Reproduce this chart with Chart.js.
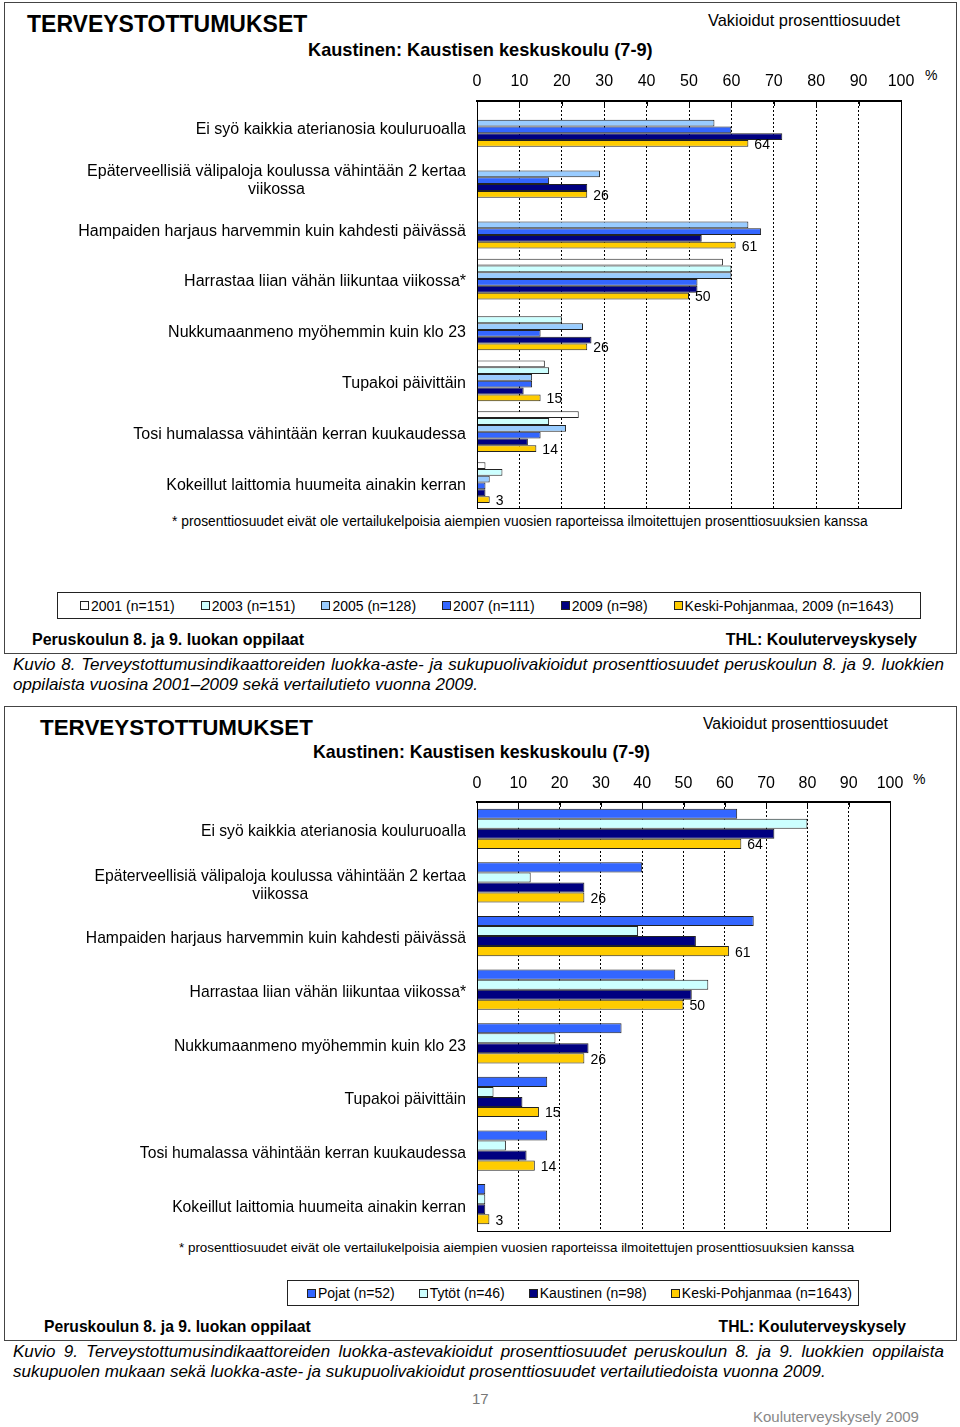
<!DOCTYPE html>
<html lang="fi">
<head>
<meta charset="utf-8">
<title>Terveystottumukset</title>
<script src="https://cdn.jsdelivr.net/npm/chart.js@4.4.1/dist/chart.umd.min.js"></script>
<style>
  body { margin: 0; background: #fff; font-family: "Liberation Sans", Arial, sans-serif; color: #000; }
  #page { position: relative; width: 960px; height: 1427px; overflow: hidden; }
  .frame { position: absolute; border: 1px solid #444; box-sizing: border-box; }
  .t { position: absolute; white-space: nowrap; line-height: 1; }
  .b { font-weight: bold; }
  canvas { position: absolute; left: 0; }
  .legend { position: absolute; border: 1px solid #222; box-sizing: border-box; display: flex; align-items: center; font-size: 14px; }
  .legend .item { display: flex; align-items: center; white-space: nowrap; }
  .legend .sw { width: 7px; height: 7px; border: 1px solid #222; margin-right: 2px; }
  .caption { position: absolute; left: 13px; width: 931px; font-style: italic; font-size: 17px; line-height: 20px; }
  .caption .l1 { text-align: justify; text-align-last: justify; white-space: nowrap; }
</style>
</head>
<body>
<div id="page">
  <div class="frame" style="left:4px; top:2px; width:953px; height:652px;"></div>
  <div class="t b" style="left:27px; top:13px; font-size:23px;">TERVEYSTOTTUMUKSET</div>
  <div class="t" style="left:708px; top:12px; font-size:16.4px;">Vakioidut prosenttiosuudet</div>
  <div class="t b" style="left:308px; top:41px; font-size:18.2px;">Kaustinen: Kaustisen keskuskoulu (7-9)</div>
  <div class="t" style="left:925px; top:68px; font-size:14px;">%</div>
  <canvas id="chartTop" width="960" height="452" style="top:60px;"></canvas>
  <div class="t" style="left:172px; top:515px; font-size:13.8px;">* prosenttiosuudet eivät ole vertailukelpoisia aiempien vuosien raporteissa ilmoitettujen prosenttiosuuksien kanssa</div>
  <div class="legend" id="legendTop" style="left:57px; top:592px; width:864px; height:27px; padding-left:22px; gap:26px;"></div>
  <div class="t b" style="left:32px; top:632px; font-size:16px;">Peruskoulun 8. ja 9. luokan oppilaat</div>
  <div class="t b" style="right:43px; top:632px; font-size:16px;">THL: Kouluterveyskysely</div>
  <div class="caption" style="top:655px;">
    <div class="l1">Kuvio 8. Terveystottumusindikaattoreiden luokka-aste- ja sukupuolivakioidut prosenttiosuudet peruskoulun 8. ja 9. luokkien</div>
    <div>oppilaista vuosina 2001–2009 sekä vertailutieto vuonna 2009.</div>
  </div>

  <div class="frame" style="left:4px; top:706px; width:953px; height:635px;"></div>
  <div class="t b" style="left:40px; top:717px; font-size:22.4px;">TERVEYSTOTTUMUKSET</div>
  <div class="t" style="left:703px; top:716px; font-size:15.8px;">Vakioidut prosenttiosuudet</div>
  <div class="t b" style="left:313px; top:744px; font-size:17.8px;">Kaustinen: Kaustisen keskuskoulu (7-9)</div>
  <div class="t" style="left:913px; top:772px; font-size:14px;">%</div>
  <canvas id="chartBottom" width="960" height="473" style="top:762px;"></canvas>
  <div class="t" style="left:179px; top:1241px; font-size:13.4px;">* prosenttiosuudet eivät ole vertailukelpoisia aiempien vuosien raporteissa ilmoitettujen prosenttiosuuksien kanssa</div>
  <div class="legend" id="legendBottom" style="left:287px; top:1280px; width:572px; height:26px; padding-left:19px; gap:24px;"></div>
  <div class="t b" style="left:44px; top:1319px; font-size:15.7px;">Peruskoulun 8. ja 9. luokan oppilaat</div>
  <div class="t b" style="right:54px; top:1319px; font-size:15.7px;">THL: Kouluterveyskysely</div>
  <div class="caption" style="top:1342px;">
    <div class="l1">Kuvio 9. Terveystottumusindikaattoreiden luokka-astevakioidut prosenttiosuudet peruskoulun 8. ja 9. luokkien oppilaista</div>
    <div>sukupuolen mukaan sekä luokka-aste- ja sukupuolivakioidut prosenttiosuudet vertailutiedoista vuonna 2009.</div>
  </div>
  <div class="t" style="left:472px; top:1391px; font-size:15px; color:#777;">17</div>
  <div class="t" style="left:753px; top:1409px; font-size:15px; color:#888;">Kouluterveyskysely 2009</div>
</div>

<script>
// --- DATA ---
const categories = [
    'Ei syö kaikkia aterianosia kouluruoalla',
    ['Epäterveellisiä välipaloja koulussa vähintään 2 kertaa', 'viikossa'],
    'Hampaiden harjaus harvemmin kuin kahdesti päivässä',
    'Harrastaa liian vähän liikuntaa viikossa*',
    'Nukkumaanmeno myöhemmin kuin klo 23',
    'Tupakoi päivittäin',
    'Tosi humalassa vähintään kerran kuukaudessa',
    'Kokeillut laittomia huumeita ainakin kerran'
];

// Kuvio 8: years
const yearSeries = ['2001 (n=151)', '2003 (n=151)', '2005 (n=128)', '2007 (n=111)', '2009 (n=98)', 'Keski-Pohjanmaa, 2009 (n=1643)'];
const values2001 = [null, null, null, 58, null, 16, 24, 2];
const values2003 = [null, null, null, 60, 20, 17, 17, 6];
const values2005 = [56, 29, 64, 60, 25, 13, 21, 3];
const values2007 = [60, 17, 67, 52, 15, 13, 15, 2];
const values2009 = [72, 26, 53, 52, 27, 11, 12, 2];
const valuesRegion = [64, 26, 61, 50, 26, 15, 14, 3];

// Kuvio 9: gender
const genderSeries = ['Pojat (n=52)', 'Tytöt (n=46)', 'Kaustinen (n=98)', 'Keski-Pohjanmaa (n=1643)'];
const valuesBoys = [63, 40, 67, 48, 35, 17, 17, 2];
const valuesGirls = [80, 13, 39, 56, 19, 4, 7, 2];
const valuesSchool = [72, 26, 53, 52, 27, 11, 12, 2];
const valuesRegion2 = [64, 26, 61, 50, 26, 15, 14, 3];

const axisMin = 0, axisMax = 100, axisStep = 10;

const COLORS = {
    y2001: '#FFFFFF', y2003: '#CCFFFF', y2005: '#99CCFF',
    y2007: '#3366FF', y2009: '#000080', region: '#FFCC00'
};
const FONT = '"Liberation Sans", Arial, sans-serif';

// --- PLUGINS ---
// category labels, multi-line ones centred on themselves
const categoryLabels = {
    id: 'categoryLabels',
    afterDraw: (chart, args, opts) => {
        const ctx = chart.ctx;
        const yScale = chart.scales.y;
        ctx.save();
        ctx.font = `${opts.size}px ${FONT}`;
        ctx.fillStyle = '#000';
        ctx.textAlign = 'center';
        ctx.textBaseline = 'middle';
        chart.data.labels.forEach((label, i) => {
            const lines = Array.isArray(label) ? label : [label];
            const w = Math.max(...lines.map(l => ctx.measureText(l).width));
            const cx = chart.chartArea.left - opts.gap - w / 2;
            const cy = yScale.getPixelForValue(i) + opts.shift;
            lines.forEach((l, k) => {
                ctx.fillText(l, cx, cy + (k - (lines.length - 1) / 2) * opts.lineHeight);
            });
        });
        ctx.restore();
    }
};

// value labels on the last dataset + plot frame with inward ticks
const plotExtras = {
    id: 'plotExtras',
    afterDatasetsDraw: (chart, args, opts) => {
        const ctx = chart.ctx;
        const area = chart.chartArea;
        const xScale = chart.scales.x;
        ctx.save();
        ctx.strokeStyle = '#000';
        ctx.lineWidth = 1;
        ctx.strokeRect(area.left + 0.5, area.top + 0.5, area.right - area.left, area.bottom - area.top);
        ctx.lineWidth = 2;
        ctx.beginPath();
        ctx.moveTo(area.left, area.top);
        ctx.lineTo(area.right + 1, area.top);
        ctx.stroke();
        ctx.lineWidth = 1;
        xScale.ticks.forEach(t => {
            const x = Math.round(xScale.getPixelForValue(t.value)) + 0.5;
            ctx.beginPath();
            ctx.moveTo(x, area.top);
            ctx.lineTo(x, area.top + 5);
            ctx.stroke();
        });

        const last = chart.data.datasets.length - 1;
        const values = chart.data.datasets[last].data;
        ctx.font = `14px ${FONT}`;
        ctx.fillStyle = '#000';
        ctx.textAlign = 'left';
        ctx.textBaseline = 'middle';
        chart.getDatasetMeta(last).data.forEach((bar, i) => {
            if (values[i] == null) return;
            ctx.fillText(String(values[i]), bar.x + opts.gap, bar.y + 1.5);
        });
        ctx.restore();
    }
};

const makeDataset = (label, data, color) => ({
    label: label,
    data: data,
    backgroundColor: color,
    borderColor: '#222',
    borderWidth: 1,
    borderSkipped: 'start'
});

const makeChart = (canvasId, datasets, cfg) => new Chart(document.getElementById(canvasId), {
    type: 'bar',
    data: { labels: categories, datasets: datasets },
    plugins: [categoryLabels, plotExtras],
    options: {
        indexAxis: 'y',
        responsive: false,
        animation: false,
        devicePixelRatio: 1,
        categoryPercentage: cfg.catPct,
        barPercentage: 1.0,
        layout: { padding: { left: 0, right: cfg.padRight, top: 0, bottom: cfg.padBottom } },
        scales: {
            x: {
                position: 'top',
                min: axisMin,
                max: axisMax,
                ticks: { stepSize: axisStep, color: '#000', padding: cfg.tickPad, font: { family: FONT, size: 16 } },
                grid: { color: '#000', lineWidth: 1, drawTicks: false },
                border: { display: true, color: '#000', width: 2, dash: [2, 2] },
                afterFit: (s) => { s.height = cfg.axisHeight; }
            },
            y: {
                ticks: { display: false },
                grid: { display: false },
                border: { display: true, color: '#000', width: 1 },
                afterFit: (s) => { s.width = 477; }
            }
        },
        plugins: {
            legend: { display: false },
            tooltip: { enabled: false },
            categoryLabels: { size: cfg.labelSize, gap: 11, shift: 3, lineHeight: 18 },
            plotExtras: { gap: 6 }
        }
    }
});

makeChart('chartTop', [
    makeDataset(yearSeries[0], values2001, COLORS.y2001),
    makeDataset(yearSeries[1], values2003, COLORS.y2003),
    makeDataset(yearSeries[2], values2005, COLORS.y2005),
    makeDataset(yearSeries[3], values2007, COLORS.y2007),
    makeDataset(yearSeries[4], values2009, COLORS.y2009),
    makeDataset(yearSeries[5], valuesRegion, COLORS.region)
], { catPct: 0.8, padRight: 59, padBottom: 4, axisHeight: 41, tickPad: 10, labelSize: 16 });

makeChart('chartBottom', [
    makeDataset(genderSeries[0], valuesBoys, COLORS.y2007),
    makeDataset(genderSeries[1], valuesGirls, COLORS.y2003),
    makeDataset(genderSeries[2], valuesSchool, COLORS.y2009),
    makeDataset(genderSeries[3], valuesRegion2, COLORS.region)
], { catPct: 0.75, padRight: 70, padBottom: 4, axisHeight: 40, tickPad: 9, labelSize: 15.7 });

// --- LEGENDS ---
const buildLegend = (elId, names, colors) => {
    const box = document.getElementById(elId);
    names.forEach((name, i) => {
        const item = document.createElement('div');
        item.className = 'item';
        item.innerHTML = `<span class="sw" style="background:${colors[i]}"></span>${name}`;
        box.appendChild(item);
    });
};
buildLegend('legendTop', yearSeries, [COLORS.y2001, COLORS.y2003, COLORS.y2005, COLORS.y2007, COLORS.y2009, COLORS.region]);
buildLegend('legendBottom', genderSeries, [COLORS.y2007, COLORS.y2003, COLORS.y2009, COLORS.region]);
</script>
</body>
</html>
